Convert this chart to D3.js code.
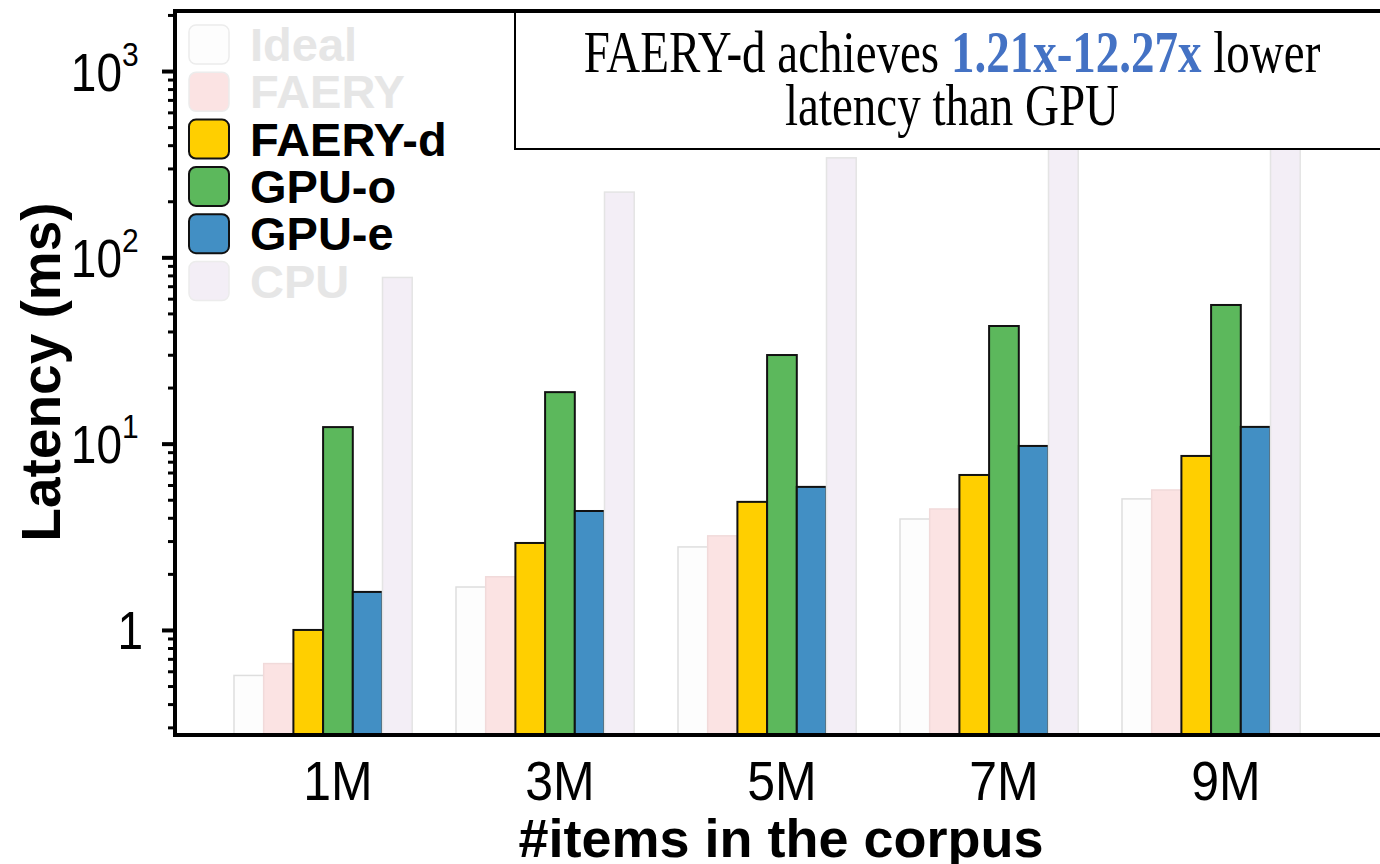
<!DOCTYPE html>
<html>
<head>
<meta charset="utf-8">
<script src="https://cdn.jsdelivr.net/npm/d3@7"></script>
<style>
body { margin: 0; background: #fff; }
svg { display: block; }
</style>
</head>
<body>
<div id="grafica"></div>
<script>
// datos (latencia en ms, escala log)
var categorias = ["1M", "3M", "5M", "7M", "9M"];
var series = ["Ideal", "FAERY", "FAERY-d", "GPU-o", "GPU-e", "CPU"];
var ideal  = [0.57, 1.70, 2.79, 3.94, 5.05];
var faery  = [0.66, 1.93, 3.20, 4.46, 5.64];
var faeryD = [1.00, 2.93, 4.87, 6.79, 8.59];
var gpuO   = [12.27, 18.9, 29.9, 42.8, 55.5];
var gpuE   = [1.60, 4.35, 5.86, 9.72, 12.3];
var cpu    = [78, 224, 342, 480, 620];
var marcasY = [1, 10, 100, 1000];
var baseY = ["1", "10", "10", "10"];
var expY  = ["", "1", "2", "3"];

var valores = { "Ideal": ideal, "FAERY": faery, "FAERY-d": faeryD, "GPU-o": gpuO, "GPU-e": gpuE, "CPU": cpu };

var estilos = {
  "Ideal":   { fill: "#fdfdfd", stroke: "#dedede", sw: 1.5, tenue: true },
  "FAERY":   { fill: "#fbe3e3", stroke: "#f1dada", sw: 1.5, tenue: true },
  "FAERY-d": { fill: "#ffcf00", stroke: "#111", sw: 2, tenue: false },
  "GPU-o":   { fill: "#5cb85c", stroke: "#111", sw: 2, tenue: false },
  "GPU-e":   { fill: "#428fc4", stroke: "#111", sw: 2, tenue: false },
  "CPU":     { fill: "#f3eef6", stroke: "#e4e4e4", sw: 1.5, tenue: true }
};

var izq = 175, arriba = 11, abajo = 735, der = 1390;

var svg = d3.select("#grafica")
  .append("svg")
  .attr("width", 1380)
  .attr("height", 864)
  .attr("id", "svgraf");

var y = d3.scaleLog().domain([0.273, 2100]).range([abajo, arriba]);
var x0 = d3.scaleBand().domain(categorias).range([234, 1344]);
var x1 = d3.scaleBand().domain(series).range([0, 178.2]);

// barras
var grupos = svg.selectAll("g.grupo")
  .data(categorias)
  .enter().append("g")
  .attr("class", "grupo")
  .attr("transform", function (c) { return "translate(" + x0(c) + ",0)"; });

grupos.selectAll("rect")
  .data(function (c, i) { return series.map(function (s) { return { s: s, v: valores[s][i] }; }); })
  .enter().append("rect")
  .attr("x", function (d) { return x1(d.s); })
  .attr("y", function (d) { return y(d.v); })
  .attr("width", x1.bandwidth())
  .attr("height", function (d) { return abajo - y(d.v); })
  .attr("fill", function (d) { return estilos[d.s].fill; })
  .attr("stroke", function (d) { return estilos[d.s].stroke; })
  .attr("stroke-width", function (d) { return estilos[d.s].sw; });

// caja de anotacion (tapa las barras de CPU)
svg.append("rect")
  .attr("x", 515).attr("y", arriba)
  .attr("width", der - 515).attr("height", 138)
  .attr("fill", "#fff").attr("stroke", "#000").attr("stroke-width", 2);

var linea1 = svg.append("g").attr("transform", "translate(952,72) scale(1,1.27)")
  .append("text")
  .attr("text-anchor", "middle")
  .attr("font-family", "'Liberation Serif', 'Times New Roman', serif")
  .attr("font-size", 47);
linea1.append("tspan").text("FAERY-d achieves ");
linea1.append("tspan").attr("font-weight", "bold").attr("fill", "#4472c4").text("1.21x-12.27x");
linea1.append("tspan").text(" lower");

svg.append("g").attr("transform", "translate(952,125) scale(1,1.27)")
  .append("text")
  .attr("text-anchor", "middle")
  .attr("font-family", "'Liberation Serif', 'Times New Roman', serif")
  .attr("font-size", 47)
  .text("latency than GPU");

// eje y: marcas menores
var menores = [];
[0.1, 1, 10, 100, 1000].forEach(function (b) {
  for (var k = 2; k <= 9; k++) {
    var v = b * k;
    if (v >= 0.273 && v <= 2100) menores.push(v);
  }
});

var ejeMenor = svg.append("g")
  .attr("transform", "translate(" + izq + ",0)")
  .call(d3.axisLeft(y).tickValues(menores).tickSize(7).tickSizeOuter(0).tickFormat(function () { return ""; }));
ejeMenor.selectAll(".tick line").attr("stroke", "#000").attr("stroke-width", 3);
ejeMenor.select(".domain").remove();

var ejeY = svg.append("g")
  .attr("transform", "translate(" + izq + ",0)")
  .call(d3.axisLeft(y).tickValues(marcasY).tickSize(13).tickSizeOuter(0).tickFormat(function () { return ""; }));
ejeY.selectAll(".tick line").attr("stroke", "#000").attr("stroke-width", 4);
ejeY.select(".domain").attr("stroke", "#000").attr("stroke-width", 4)
  .attr("d", "M0," + (abajo + 2) + "V" + (arriba - 2));

ejeY.selectAll(".tick").each(function (d, i) {
  var t = d3.select(this).append("g")
    .attr("transform", "translate(" + (expY[i] ? -53 : -32) + ",19) scale(1,1.15)")
    .append("text")
    .attr("text-anchor", "end")
    .attr("fill", "#000")
    .attr("font-family", "'Liberation Sans', Arial, sans-serif")
    .attr("font-size", 46)
    .text(baseY[i]);
  if (expY[i]) {
    d3.select(this).append("g")
      .attr("transform", "translate(-53,-6) scale(1,1.1)")
      .append("text")
      .attr("text-anchor", "start")
      .attr("fill", "#000")
      .attr("font-family", "'Liberation Sans', Arial, sans-serif")
      .attr("font-size", 30)
      .text(expY[i]);
  }
});

// eje x y borde superior
svg.append("line")
  .attr("x1", izq - 2).attr("x2", der)
  .attr("y1", abajo).attr("y2", abajo)
  .attr("stroke", "#000").attr("stroke-width", 4);
svg.append("line")
  .attr("x1", izq - 2).attr("x2", der)
  .attr("y1", arriba).attr("y2", arriba)
  .attr("stroke", "#000").attr("stroke-width", 4);

svg.selectAll("g.etiquetaX")
  .data(categorias)
  .enter().append("g")
  .attr("class", "etiquetaX")
  .attr("transform", function (c) { return "translate(" + (x0(c) + x1.step() * 3.5) + ",800) scale(1,1.12)"; })
  .append("text")
  .attr("text-anchor", "middle")
  .attr("font-family", "'Liberation Sans', Arial, sans-serif")
  .attr("font-size", 50)
  .text(function (c) { return c; });

// titulos de ejes
svg.append("text")
  .attr("x", 781).attr("y", 857)
  .attr("text-anchor", "middle")
  .attr("font-family", "'Liberation Sans', Arial, sans-serif")
  .attr("font-weight", "bold")
  .attr("font-size", 54)
  .text("#items in the corpus");

svg.append("text")
  .attr("transform", "translate(60,372) rotate(-90)")
  .attr("text-anchor", "middle")
  .attr("font-family", "'Liberation Sans', Arial, sans-serif")
  .attr("font-weight", "bold")
  .attr("font-size", 55)
  .text("Latency (ms)");

// leyenda
var leyenda = svg.selectAll("g.leyenda")
  .data(series)
  .enter().append("g")
  .attr("class", "leyenda")
  .attr("transform", function (s, i) { return "translate(189," + (25 + i * 47.3) + ")"; });

leyenda.append("rect")
  .attr("width", 40).attr("height", 39)
  .attr("rx", 7).attr("ry", 7)
  .attr("fill", function (s) { return estilos[s].fill; })
  .attr("stroke", function (s) { return estilos[s].tenue ? "#ececec" : "#111"; })
  .attr("stroke-width", function (s) { return estilos[s].tenue ? 1.5 : 2; });

leyenda.append("text")
  .attr("x", 61).attr("y", 36)
  .attr("font-family", "'Liberation Sans', Arial, sans-serif")
  .attr("font-weight", "bold")
  .attr("font-size", 47)
  .attr("fill", function (s) { return estilos[s].tenue ? "#e6e6e6" : "#000"; })
  .text(function (s) { return s; });
</script>
</body>
</html>
